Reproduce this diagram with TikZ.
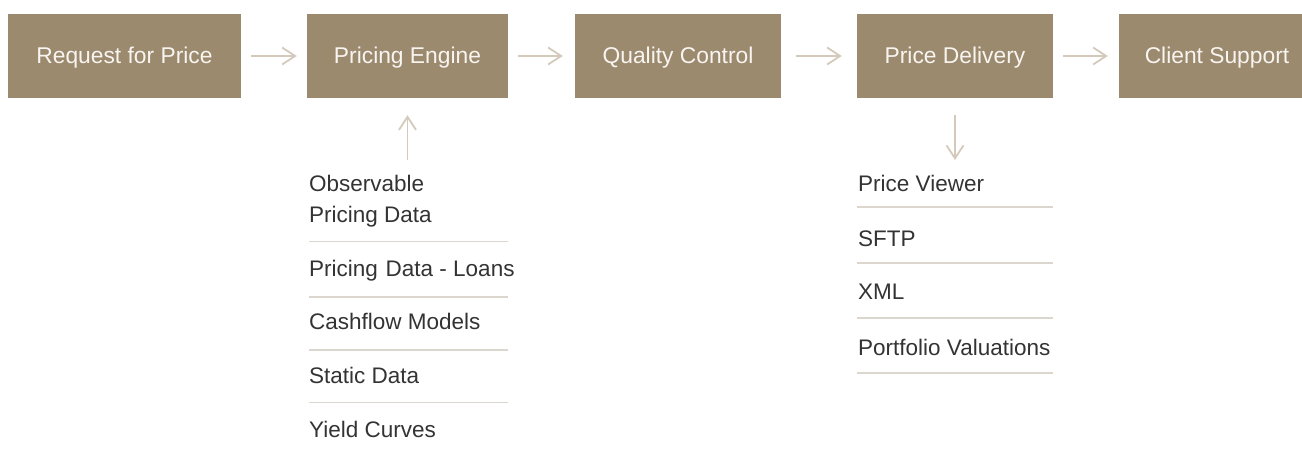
\documentclass[tikz,border=0pt]{standalone}
\usepackage{fontspec}
\setmainfont{Liberation Sans}
\usetikzlibrary{arrows.meta}
\definecolor{boxfill}{HTML}{9C8A6F}
\definecolor{boxtext}{HTML}{F8F5F0}
\definecolor{arrcol}{HTML}{D3CABC}
\definecolor{rulecol}{HTML}{DCD7CE}
\definecolor{listtext}{HTML}{333333}
\tikzset{
  stagebox/.style={fill=boxfill, text=boxtext, minimum height=84pt, inner sep=0pt,
    font=\fontsize{22.8}{26}\selectfont, text height=16.6pt, text depth=2pt},
  flowarrow/.style={draw=arrcol, line width=1.8pt, -{Straight Barb[length=13pt,width=17pt,line width=1.8pt]}},
  listitem/.style={anchor=base west, inner sep=0pt, text=listtext, font=\fontsize{22.5}{31}\selectfont, align=left},
  listrule/.style={draw=rulecol, line width=1.4pt}
}
\begin{document}
\begin{tikzpicture}[x=1pt,y=-1pt]
\path[use as bounding box] (0,0) rectangle (1302,449);
\clip (0,0) rectangle (1302,449);
% stage boxes
\node[stagebox, minimum width=233pt] (b1) at (124.5,56) {Request for Price};
\node[stagebox, minimum width=201pt] (b2) at (407.5,56) {Pricing Engine};
\node[stagebox, minimum width=206pt] (b3) at (678,56) {Quality Control};
\node[stagebox, minimum width=196pt] (b4) at (955,56) {Price Delivery};
\node[stagebox, minimum width=196pt] (b5) at (1217,56) {Client Support};
% horizontal arrows
\draw[flowarrow, shorten <=10pt, shorten >=10pt] (b1) -- (b2);
\draw[flowarrow, shorten <=10pt, shorten >=12pt] (b2) -- (b3);
\draw[flowarrow, shorten <=15pt, shorten >=15pt] (b3) -- (b4);
\draw[flowarrow, shorten <=10pt, shorten >=11pt] (b4) -- (b5);
% vertical arrows
\coordinate (inA) at (407.5,160);
\coordinate (outA) at (955,160);
\draw[flowarrow, shorten >=17pt] (inA) -- (b2);
\draw[flowarrow, shorten <=17pt] (b4) -- (outA);
% input list
\node[listitem] (i1) at (309,223) {Observable\\Pricing Data};
\node[listitem] (i2) at (309,277) {Pricing\hspace{1.5pt} Data - Loans};
\node[listitem] (i3) at (309,330) {Cashflow Models};
\node[listitem] (i4) at (309,383) {Static Data};
\node[listitem] (i5) at (309,437) {Yield Curves};
\coordinate (l1a) at (309,241.7); \coordinate (l1b) at (508,241.7);
\coordinate (l2a) at (309,297); \coordinate (l2b) at (508,297);
\coordinate (l3a) at (309,350); \coordinate (l3b) at (508,350);
\coordinate (l4a) at (309,402.7); \coordinate (l4b) at (508,402.7);
\draw[listrule] (l1a) -- (l1b);
\draw[listrule] (l2a) -- (l2b);
\draw[listrule] (l3a) -- (l3b);
\draw[listrule] (l4a) -- (l4b);
% output list
\node[listitem] (o1) at (858,191.7) {Price Viewer};
\node[listitem] (o2) at (858,246.7) {SFTP};
\node[listitem] (o3) at (858,300) {XML};
\node[listitem] (o4) at (858,355) {Portfolio Valuations};
\coordinate (r1a) at (857,207); \coordinate (r1b) at (1053,207);
\coordinate (r2a) at (857,263); \coordinate (r2b) at (1053,263);
\coordinate (r3a) at (857,318); \coordinate (r3b) at (1053,318);
\coordinate (r4a) at (857,373); \coordinate (r4b) at (1053,373);
\draw[listrule] (r1a) -- (r1b);
\draw[listrule] (r2a) -- (r2b);
\draw[listrule] (r3a) -- (r3b);
\draw[listrule] (r4a) -- (r4b);
\end{tikzpicture}
\end{document}
